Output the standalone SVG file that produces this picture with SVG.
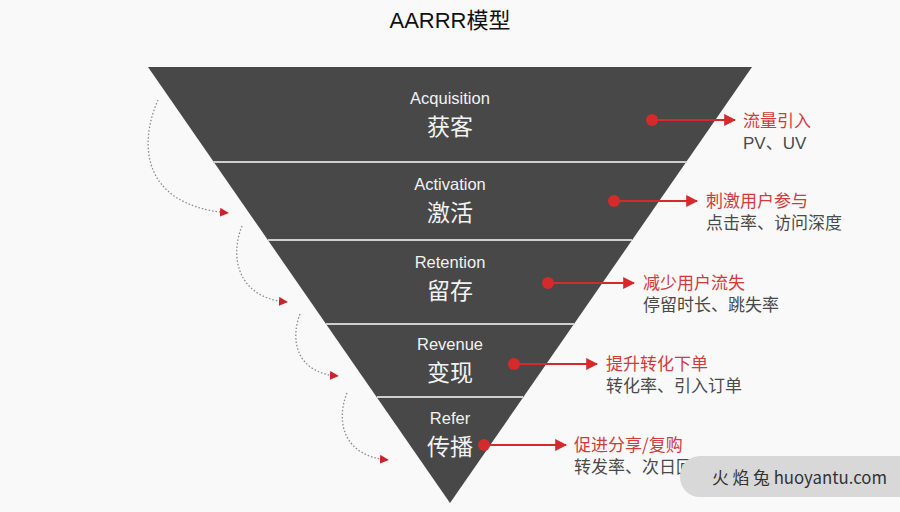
<svg xmlns="http://www.w3.org/2000/svg" width="900" height="512" viewBox="0 0 900 512">
<style>
.en{font-family:"Liberation Sans","Noto Sans",sans-serif;font-size:16.5px;fill:#f2f2f2;text-anchor:middle}
.cn{font-family:"Noto Sans CJK SC","Noto Sans",sans-serif;font-size:23px;fill:#f2f2f2;text-anchor:middle}
.lbl{font-family:"Noto Sans CJK SC",sans-serif;font-size:17px;fill:#d23a3c}
.sub{font-family:"Liberation Sans","Noto Sans CJK SC",sans-serif;font-size:17px;fill:#4a4a4a}
.sep{stroke:#cfcfcf;stroke-width:2}
.red{stroke:#d42a2c;stroke-width:2;fill:none}
.dot{stroke:#8a8a8a;stroke-width:1.3;fill:none;stroke-dasharray:1.5 2}
</style>
<defs>
<marker id="ah" viewBox="0 0 10 10" refX="9" refY="5" markerWidth="9" markerHeight="9" markerUnits="userSpaceOnUse" orient="auto"><path d="M0,0 L10,5 L0,10 z" fill="#c8252a"/></marker>
<marker id="ra" viewBox="0 0 10 10" refX="9" refY="5" markerWidth="12" markerHeight="12" markerUnits="userSpaceOnUse" orient="auto"><path d="M0,0 L10,5 L0,10 z" fill="#d42a2c"/></marker>
</defs>
<rect width="900" height="512" fill="#f9f9f9"/>
<text x="450" y="28" font-family="Liberation Sans,Noto Sans CJK SC,sans-serif" font-size="22" fill="#111" text-anchor="middle">AARRR模型</text>
<g id="funnel">
<polygon points="148,67 752,67 450,503" fill="#484848"/>
<line class="sep" x1="213" y1="162" x2="687" y2="162"/>
<line class="sep" x1="268" y1="240" x2="632" y2="240"/>
<line class="sep" x1="326" y1="324" x2="574" y2="324"/>
<line class="sep" x1="377" y1="397" x2="523" y2="397"/>
</g>
<g id="acquisition"><text class="en" x="450" y="104">Acquisition</text><text class="cn" x="450" y="135">获客</text></g>
<g id="activation"><text class="en" x="450" y="190">Activation</text><text class="cn" x="450" y="221">激活</text></g>
<g id="retention"><text class="en" x="450" y="268">Retention</text><text class="cn" x="450" y="299">留存</text></g>
<g id="revenue"><text class="en" x="450" y="350">Revenue</text><text class="cn" x="450" y="381">变现</text></g>
<g id="refer"><text class="en" x="450" y="424">Refer</text><text class="cn" x="450" y="455">传播</text></g>
<g id="note1"><text class="lbl" x="743" y="127">流量引入</text><text class="sub" x="743" y="149">PV、UV</text></g>
<g id="note2"><text class="lbl" x="706" y="207">刺激用户参与</text><text class="sub" x="706" y="229">点击率、访问深度</text></g>
<g id="note3"><text class="lbl" x="643" y="289">减少用户流失</text><text class="sub" x="643" y="311">停留时长、跳失率</text></g>
<g id="note4"><text class="lbl" x="606" y="370">提升转化下单</text><text class="sub" x="606" y="392">转化率、引入订单</text></g>
<g id="note5"><text class="lbl" x="574" y="451">促进分享/复购</text><text class="sub" x="574" y="473">转发率、次日回购率</text></g>
<g id="connectors">
<circle cx="652" cy="120" r="6" fill="#d42a2c"/><line class="red" x1="652" y1="120" x2="735" y2="120" marker-end="url(#ra)"/>
<circle cx="614" cy="201" r="6" fill="#d42a2c"/><line class="red" x1="614" y1="201" x2="697" y2="201" marker-end="url(#ra)"/>
<circle cx="548" cy="283" r="6" fill="#d42a2c"/><line class="red" x1="548" y1="283" x2="634" y2="283" marker-end="url(#ra)"/>
<circle cx="514" cy="364" r="6" fill="#d42a2c"/><line class="red" x1="514" y1="364" x2="597" y2="364" marker-end="url(#ra)"/>
<circle cx="484" cy="445" r="6" fill="#d42a2c"/><line class="red" x1="484" y1="445" x2="566" y2="445" marker-end="url(#ra)"/>
<path class="dot" d="M158,100 C140,140 138,205 228,213" marker-end="url(#ah)"/>
<path class="dot" d="M242,226 C230,255 236,298 287,302" marker-end="url(#ah)"/>
<path class="dot" d="M300,314 C290,340 296,373 338,376" marker-end="url(#ah)"/>
<path class="dot" d="M347,393 C336,420 342,456 388,460" marker-end="url(#ah)"/>
</g>
<g id="watermark">
<rect x="680" y="456" width="240" height="41" rx="20" fill="#d8d8d8"/>
<text x="712" y="484" font-family="Noto Sans CJK SC,sans-serif" font-size="17" fill="#333" textLength="175" lengthAdjust="spacingAndGlyphs">火 焰 兔 huoyantu.com</text>
</g>
</svg>
